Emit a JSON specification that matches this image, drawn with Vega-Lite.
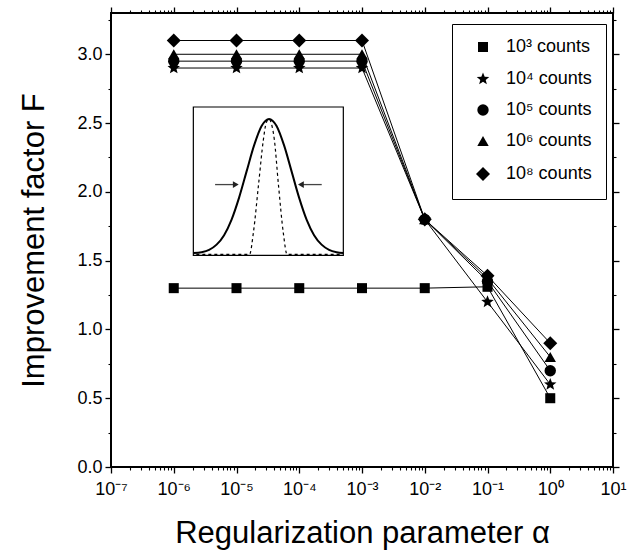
{
  "$schema": "https://vega.github.io/schema/vega-lite/v6.json",
  "width": 502,
  "height": 454,
  "autosize": {"type": "none"},
  "padding": {"left": 111, "top": 13, "right": 19, "bottom": 83},
  "background": "white",
  "config": {
    "view": {"stroke": "black", "strokeWidth": 2},
    "font": "Liberation Sans",
    "axis": {
      "domain": false,
      "grid": false,
      "ticks": true,
      "tickColor": "black",
      "tickWidth": 1.3,
      "labelFont": "Liberation Sans",
      "labelFontSize": 18,
      "labelColor": "black",
      "titleFont": "Liberation Sans",
      "titleFontSize": 31,
      "titleFontWeight": "normal",
      "titleColor": "black"
    }
  },
  "datasets": {
    "main": [
      {"series": "10³ counts", "alpha": 1e-6, "F": 1.3},
      {"series": "10³ counts", "alpha": 1e-5, "F": 1.3},
      {"series": "10³ counts", "alpha": 1e-4, "F": 1.3},
      {"series": "10³ counts", "alpha": 1e-3, "F": 1.3},
      {"series": "10³ counts", "alpha": 1e-2, "F": 1.3},
      {"series": "10³ counts", "alpha": 1e-1, "F": 1.31},
      {"series": "10³ counts", "alpha": 1, "F": 0.5},
      {"series": "10⁴ counts", "alpha": 1e-6, "F": 2.9},
      {"series": "10⁴ counts", "alpha": 1e-5, "F": 2.9},
      {"series": "10⁴ counts", "alpha": 1e-4, "F": 2.9},
      {"series": "10⁴ counts", "alpha": 1e-3, "F": 2.9},
      {"series": "10⁴ counts", "alpha": 1e-2, "F": 1.8},
      {"series": "10⁴ counts", "alpha": 1e-1, "F": 1.2},
      {"series": "10⁴ counts", "alpha": 1, "F": 0.6},
      {"series": "10⁵ counts", "alpha": 1e-6, "F": 2.95},
      {"series": "10⁵ counts", "alpha": 1e-5, "F": 2.95},
      {"series": "10⁵ counts", "alpha": 1e-4, "F": 2.95},
      {"series": "10⁵ counts", "alpha": 1e-3, "F": 2.95},
      {"series": "10⁵ counts", "alpha": 1e-2, "F": 1.8},
      {"series": "10⁵ counts", "alpha": 1e-1, "F": 1.35},
      {"series": "10⁵ counts", "alpha": 1, "F": 0.7},
      {"series": "10⁶ counts", "alpha": 1e-6, "F": 3.0},
      {"series": "10⁶ counts", "alpha": 1e-5, "F": 3.0},
      {"series": "10⁶ counts", "alpha": 1e-4, "F": 3.0},
      {"series": "10⁶ counts", "alpha": 1e-3, "F": 3.0},
      {"series": "10⁶ counts", "alpha": 1e-2, "F": 1.8},
      {"series": "10⁶ counts", "alpha": 1e-1, "F": 1.37},
      {"series": "10⁶ counts", "alpha": 1, "F": 0.8},
      {"series": "10⁸ counts", "alpha": 1e-6, "F": 3.1},
      {"series": "10⁸ counts", "alpha": 1e-5, "F": 3.1},
      {"series": "10⁸ counts", "alpha": 1e-4, "F": 3.1},
      {"series": "10⁸ counts", "alpha": 1e-3, "F": 3.1},
      {"series": "10⁸ counts", "alpha": 1e-2, "F": 1.8},
      {"series": "10⁸ counts", "alpha": 1e-1, "F": 1.39},
      {"series": "10⁸ counts", "alpha": 1, "F": 0.9}
    ],
    "box": [{"u": 0, "u2": 1, "v": 0, "v2": 1}],
    "gauss": [
      {"u": 0.0, "v": 0.015}, {"u": 0.055, "v": 0.021}, {"u": 0.105, "v": 0.037},
      {"u": 0.155, "v": 0.072}, {"u": 0.205, "v": 0.136}, {"u": 0.255, "v": 0.241},
      {"u": 0.305, "v": 0.389}, {"u": 0.355, "v": 0.566}, {"u": 0.405, "v": 0.741},
      {"u": 0.455, "v": 0.872}, {"u": 0.505, "v": 0.92}, {"u": 0.555, "v": 0.872},
      {"u": 0.605, "v": 0.741}, {"u": 0.655, "v": 0.566}, {"u": 0.705, "v": 0.389},
      {"u": 0.755, "v": 0.241}, {"u": 0.805, "v": 0.136}, {"u": 0.855, "v": 0.072},
      {"u": 0.905, "v": 0.037}, {"u": 0.955, "v": 0.021}, {"u": 1.0, "v": 0.015}
    ],
    "narrow": [
      {"u": 0.02, "v": 0.006}, {"u": 0.375, "v": 0.006}, {"u": 0.4, "v": 0.15},
      {"u": 0.435, "v": 0.48}, {"u": 0.467, "v": 0.78}, {"u": 0.485, "v": 0.89},
      {"u": 0.505, "v": 0.92}, {"u": 0.52, "v": 0.89}, {"u": 0.54, "v": 0.78},
      {"u": 0.567, "v": 0.48}, {"u": 0.6, "v": 0.15}, {"u": 0.625, "v": 0.006},
      {"u": 0.98, "v": 0.006}
    ],
    "arrows": [
      {"u": 0.145, "u2": 0.27, "v": 0.477},
      {"u": 0.73, "u2": 0.856, "v": 0.477}
    ],
    "headR": [{"u": 0.283, "v": 0.477}],
    "headL": [{"u": 0.717, "v": 0.477}]
  },
  "resolve": {
    "scale": {"x": "independent", "y": "independent"},
    "axis": {"x": "independent", "y": "independent"}
  },
  "layer": [
    {
      "data": {"name": "box"},
      "mark": {"type": "rect", "fill": "white", "stroke": "black", "strokeWidth": 1.2},
      "encoding": {
        "x": {"field": "u", "type": "quantitative", "scale": {"domain": [-0.549, 2.798], "nice": false, "zero": false}, "axis": null},
        "x2": {"field": "u2"},
        "y": {"field": "v", "type": "quantitative", "scale": {"domain": [-1.4275, 1.634], "nice": false, "zero": false}, "axis": null},
        "y2": {"field": "v2"}
      }
    },
    {
      "data": {"name": "gauss"},
      "mark": {"type": "line", "color": "black", "strokeWidth": 2, "interpolate": "monotone"},
      "encoding": {
        "x": {"field": "u", "type": "quantitative", "scale": {"domain": [-0.549, 2.798], "nice": false, "zero": false}, "axis": null},
        "y": {"field": "v", "type": "quantitative", "scale": {"domain": [-1.4275, 1.634], "nice": false, "zero": false}, "axis": null}
      }
    },
    {
      "data": {"name": "narrow"},
      "mark": {"type": "line", "color": "black", "strokeWidth": 1.2, "strokeDash": [3, 3], "interpolate": "monotone"},
      "encoding": {
        "x": {"field": "u", "type": "quantitative", "scale": {"domain": [-0.549, 2.798], "nice": false, "zero": false}, "axis": null},
        "y": {"field": "v", "type": "quantitative", "scale": {"domain": [-1.4275, 1.634], "nice": false, "zero": false}, "axis": null}
      }
    },
    {
      "data": {"name": "arrows"},
      "mark": {"type": "rule", "color": "#444", "strokeWidth": 1.3},
      "encoding": {
        "x": {"field": "u", "type": "quantitative", "scale": {"domain": [-0.549, 2.798], "nice": false, "zero": false}, "axis": null},
        "x2": {"field": "u2"},
        "y": {"field": "v", "type": "quantitative", "scale": {"domain": [-1.4275, 1.634], "nice": false, "zero": false}, "axis": null}
      }
    },
    {
      "data": {"name": "headR"},
      "mark": {"type": "point", "filled": true, "opacity": 1, "color": "#222", "size": 45, "shape": "triangle-right"},
      "encoding": {
        "x": {"field": "u", "type": "quantitative", "scale": {"domain": [-0.549, 2.798], "nice": false, "zero": false}, "axis": null},
        "y": {"field": "v", "type": "quantitative", "scale": {"domain": [-1.4275, 1.634], "nice": false, "zero": false}, "axis": null}
      }
    },
    {
      "data": {"name": "headL"},
      "mark": {"type": "point", "filled": true, "opacity": 1, "color": "#222", "size": 45, "shape": "triangle-left"},
      "encoding": {
        "x": {"field": "u", "type": "quantitative", "scale": {"domain": [-0.549, 2.798], "nice": false, "zero": false}, "axis": null},
        "y": {"field": "v", "type": "quantitative", "scale": {"domain": [-1.4275, 1.634], "nice": false, "zero": false}, "axis": null}
      }
    },
    {
      "data": {"name": "main"},
      "mark": {"type": "line", "color": "black", "strokeWidth": 1},
      "encoding": {
        "x": {
          "field": "alpha", "type": "quantitative",
          "scale": {"type": "log", "domain": [1e-7, 10], "nice": false},
          "axis": {
            "orient": "top", "labels": false, "title": null,
            "values": [1e-7, 1e-6, 1e-5, 1e-4, 1e-3, 1e-2, 0.1, 1, 10],
            "tickSize": 6
          }
        },
        "y": {
          "field": "F", "type": "quantitative",
          "scale": {"domain": [0, 3.3], "nice": false, "zero": false},
          "axis": {
            "orient": "right", "labels": false, "title": null,
            "values": [0, 0.5, 1, 1.5, 2, 2.5, 3],
            "tickSize": 6
          }
        },
        "detail": {"field": "series"}
      }
    },
    {
      "data": {"name": "main"},
      "mark": {"type": "point", "opacity": 0},
      "encoding": {
        "x": {
          "field": "alpha", "type": "quantitative",
          "scale": {"type": "log", "domain": [1e-7, 10], "nice": false},
          "axis": {
            "orient": "bottom", "labels": false, "title": null,
            "values": [2e-7,3e-7,4e-7,5e-7,6e-7,7e-7,8e-7,9e-7,2e-6,3e-6,4e-6,5e-6,6e-6,7e-6,8e-6,9e-6,2e-5,3e-5,4e-5,5e-5,6e-5,7e-5,8e-5,9e-5,2e-4,3e-4,4e-4,5e-4,6e-4,7e-4,8e-4,9e-4,2e-3,3e-3,4e-3,5e-3,6e-3,7e-3,8e-3,9e-3,2e-2,3e-2,4e-2,5e-2,6e-2,7e-2,8e-2,9e-2,0.2,0.3,0.4,0.5,0.6,0.7,0.8,0.9,2,3,4,5,6,7,8,9],
            "tickSize": 3, "tickWidth": 1.1
          }
        },
        "y": {
          "field": "F", "type": "quantitative",
          "scale": {"domain": [0, 3.3], "nice": false, "zero": false},
          "axis": {
            "orient": "left", "labels": false, "title": null,
            "values": [0.25, 0.75, 1.25, 1.75, 2.25, 2.75, 3.25],
            "tickSize": 3, "tickWidth": 1.1
          }
        }
      }
    },
    {
      "data": {"name": "main"},
      "mark": {"type": "point", "opacity": 0},
      "encoding": {
        "x": {
          "field": "alpha", "type": "quantitative",
          "scale": {"type": "log", "domain": [1e-7, 10], "nice": false},
          "axis": {
            "orient": "top", "labels": false, "title": null,
            "values": [2e-7,3e-7,4e-7,5e-7,6e-7,7e-7,8e-7,9e-7,2e-6,3e-6,4e-6,5e-6,6e-6,7e-6,8e-6,9e-6,2e-5,3e-5,4e-5,5e-5,6e-5,7e-5,8e-5,9e-5,2e-4,3e-4,4e-4,5e-4,6e-4,7e-4,8e-4,9e-4,2e-3,3e-3,4e-3,5e-3,6e-3,7e-3,8e-3,9e-3,2e-2,3e-2,4e-2,5e-2,6e-2,7e-2,8e-2,9e-2,0.2,0.3,0.4,0.5,0.6,0.7,0.8,0.9,2,3,4,5,6,7,8,9],
            "tickSize": 3, "tickWidth": 1.1
          }
        },
        "y": {
          "field": "F", "type": "quantitative",
          "scale": {"domain": [0, 3.3], "nice": false, "zero": false},
          "axis": {
            "orient": "right", "labels": false, "title": null,
            "values": [0.25, 0.75, 1.25, 1.75, 2.25, 2.75, 3.25],
            "tickSize": 3, "tickWidth": 1.1
          }
        }
      }
    },
    {
      "data": {"name": "main"},
      "mark": {"type": "point", "filled": true, "opacity": 1, "color": "black", "size": 130},
      "encoding": {
        "x": {
          "field": "alpha", "type": "quantitative",
          "scale": {"type": "log", "domain": [1e-7, 10], "nice": false},
          "axis": {
            "orient": "bottom",
            "title": "Regularization parameter α",
            "titlePadding": 20,
            "labelPadding": 7,
            "tickSize": 6,
            "values": [1e-7, 1e-6, 1e-5, 1e-4, 1e-3, 1e-2, 0.1, 1, 10],
            "labelExpr": "'10' + (round(log(datum.value)/LN10) == -7 ? '⁻⁷' : round(log(datum.value)/LN10) == -6 ? '⁻⁶' : round(log(datum.value)/LN10) == -5 ? '⁻⁵' : round(log(datum.value)/LN10) == -4 ? '⁻⁴' : round(log(datum.value)/LN10) == -3 ? '⁻³' : round(log(datum.value)/LN10) == -2 ? '⁻²' : round(log(datum.value)/LN10) == -1 ? '⁻¹' : round(log(datum.value)/LN10) == 0 ? '⁰' : '¹')",
            "labelFlush": false,
            "labelOverlap": false
          }
        },
        "y": {
          "field": "F", "type": "quantitative",
          "scale": {"domain": [0, 3.3], "nice": false, "zero": false},
          "axis": {
            "orient": "left",
            "title": "Improvement factor F",
            "titlePadding": 26,
            "labelPadding": 3,
            "tickSize": 6,
            "values": [0, 0.5, 1, 1.5, 2, 2.5, 3],
            "format": ".1f",
            "labelFlush": false,
            "labelOverlap": false
          }
        },
        "shape": {
          "field": "series", "type": "nominal",
          "scale": {
            "domain": ["10³ counts", "10⁴ counts", "10⁵ counts", "10⁶ counts", "10⁸ counts"],
            "range": [
              "M-0.88,-0.88H0.88V0.88H-0.88Z",
              "M0,-1.15L0.294,-0.405L1.094,-0.355L0.476,0.155L0.676,0.93L0,0.5L-0.676,0.93L-0.476,0.155L-1.094,-0.355L-0.294,-0.405Z",
              "circle",
              "triangle-up",
              "M-1.23,0L0,-1.23L1.23,0L0,1.23Z"
            ]
          },
          "legend": {
            "orient": "none",
            "legendX": 341,
            "legendY": 11,
            "title": null,
            "padding": 14,
            "strokeColor": "black",
            "fillColor": "white",
            "labelFont": "Liberation Sans",
            "labelFontSize": 18,
            "labelColor": "black",
            "labelLimit": 200,
            "symbolSize": 130,
            "symbolFillColor": "black",
            "symbolStrokeColor": "black",
            "symbolOffset": 8,
            "labelOffset": 14,
            "rowPadding": 13
          }
        }
      }
    }
  ]
}
